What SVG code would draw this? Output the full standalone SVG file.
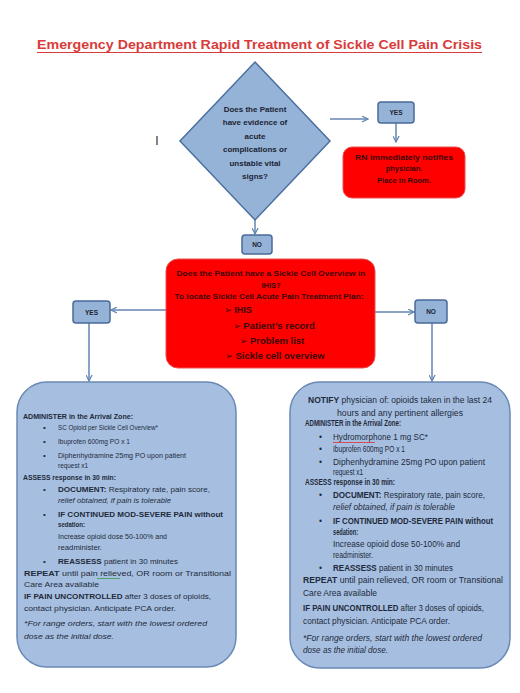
<svg xmlns="http://www.w3.org/2000/svg" width="520" height="693" viewBox="0 0 520 693">
<style>
.t{font-family:"Liberation Sans",Arial,sans-serif;}
.b{font-weight:bold;}
.i{font-style:italic;}
.lbl{fill:#95b3d7;stroke:#4a6a9a;stroke-width:1.5;}
.big{fill:#a6bfe1;stroke:#6b89b4;stroke-width:1.5;}
.red{fill:#ff0000;stroke:#e85050;stroke-width:1;}
.dk{fill:#1c2333;}
.rt{fill:#3a0808;font-weight:bold;}
.bx{fill:#1e2a3a;}
.con{fill:none;stroke:#6384b3;stroke-width:1.5;}
.ar{font-family:"DejaVu Sans",sans-serif;}
</style>
<defs>
<marker id="ah" viewBox="0 0 8 8" refX="7" refY="4" markerWidth="7" markerHeight="7" markerUnits="userSpaceOnUse" orient="auto">
<path d="M0,0.5 L7,4 L0,7.5" fill="none" stroke="#6384b3" stroke-width="1.4"/>
</marker>
</defs>
<rect width="520" height="693" fill="#ffffff"/>

<g id="title">
<text class="t b" x="259.5" y="49" font-size="13" fill="#d93a3a" text-anchor="middle" textLength="445" lengthAdjust="spacingAndGlyphs">Emergency Department Rapid Treatment of Sickle Cell Pain Crisis</text>
<line x1="37" y1="52.5" x2="482" y2="52.5" stroke="#d93a3a" stroke-width="1.2"/>
</g>

<text class="t" x="157" y="145" font-size="12" fill="#333333" text-anchor="middle">I</text>

<g id="connectors">
<path class="con" d="M330,119 L368,119" marker-end="url(#ah)"/>
<path class="con" d="M396,123 L396,142" marker-end="url(#ah)"/>
<path class="con" d="M255,220 L255,234" marker-end="url(#ah)"/>
<path class="con" d="M166,310 L111,310" marker-end="url(#ah)"/>
<path class="con" d="M89,323 L89,381" marker-end="url(#ah)"/>
<path class="con" d="M375,312 L414,312" marker-end="url(#ah)"/>
<path class="con" d="M432,323 L432,381" marker-end="url(#ah)"/>
</g>

<g id="decision">
<polygon points="255,62 330,141 255,220 180,141" fill="#95b3d7" stroke="#4a6fa0" stroke-width="1.5"/>
<g class="t b dk" font-size="8" text-anchor="middle">
<text x="255" y="112">Does the Patient</text>
<text x="255" y="125">have evidence of</text>
<text x="255" y="139">acute</text>
<text x="255" y="152">complications or</text>
<text x="255" y="166">unstable vital</text>
<text x="255" y="179">signs?</text>
</g>
</g>

<g id="yes-top">
<rect class="lbl" x="378" y="102" width="36" height="21" rx="3"/>
<text class="t b dk" x="396" y="115" font-size="6.5" text-anchor="middle">YES</text>
</g>

<g id="notify-room">
<rect class="red" x="343" y="147" width="122" height="51" rx="9"/>
<g class="t rt" font-size="7.5" text-anchor="middle">
<text x="404" y="160" textLength="98" lengthAdjust="spacingAndGlyphs">RN immediately notifies</text>
<text x="404" y="171">physician.</text>
<text x="404" y="183">Place in Room.</text>
</g>
</g>

<g id="no-top">
<rect class="lbl" x="242" y="235" width="30" height="19" rx="3"/>
<text class="t b dk" x="257" y="247" font-size="6.5" text-anchor="middle">NO</text>
</g>

<g id="overview">
<rect class="red" x="166" y="259" width="209" height="109" rx="12"/>
<g class="t rt" text-anchor="middle">
<text x="271" y="276" font-size="7.5" textLength="189" lengthAdjust="spacingAndGlyphs">Does the Patient have a Sickle Cell Overview in</text>
<text x="271" y="288" font-size="7.5">IHIS?</text>
<text x="269" y="299" font-size="7.5" textLength="189" lengthAdjust="spacingAndGlyphs">To locate Sickle Cell Acute Pain Treatment Plan:</text>
<text x="238" y="313" font-size="9"><tspan class="ar" font-size="9">➢</tspan>  IHIS</text>
<text x="274" y="329" font-size="9.5"><tspan class="ar" font-size="9">➢</tspan>  Patient’s record</text>
<text x="272" y="344" font-size="9.5"><tspan class="ar" font-size="9">➢</tspan>  Problem list</text>
<text x="275" y="359" font-size="9.5"><tspan class="ar" font-size="9">➢</tspan>  Sickle cell overview</text>
</g>
</g>

<g id="yes-left">
<rect class="lbl" x="73" y="301" width="37" height="22" rx="3"/>
<text class="t b dk" x="91.5" y="314.5" font-size="6.5" text-anchor="middle">YES</text>
</g>

<g id="no-right">
<rect class="lbl" x="415" y="300" width="32" height="23" rx="3"/>
<text class="t b dk" x="431" y="314" font-size="6.5" text-anchor="middle">NO</text>
</g>

<g id="plan-yes">
<rect class="big" x="17" y="382" width="219" height="285" rx="30"/>
<g class="t bx" font-size="8">
<text class="b" x="23" y="419" textLength="110" lengthAdjust="spacingAndGlyphs">ADMINISTER in the Arrival Zone:</text>
<text x="43" y="430">•</text>
<text x="58" y="430" textLength="100" lengthAdjust="spacingAndGlyphs">SC Opioid per Sickle Cell Overview*</text>
<text x="43" y="444">•</text>
<text x="58" y="444" textLength="72" lengthAdjust="spacingAndGlyphs">Ibuprofen 600mg PO x 1</text>
<text x="43" y="458">•</text>
<text x="58" y="458" textLength="128" lengthAdjust="spacingAndGlyphs">Diphenhydramine 25mg PO upon patient</text>
<text x="58" y="468" textLength="30" lengthAdjust="spacingAndGlyphs">request x1</text>
<text class="b" x="23" y="480" textLength="93" lengthAdjust="spacingAndGlyphs">ASSESS response in 30 min:</text>
<text x="43" y="492">•</text>
<text x="58" y="492" textLength="152" lengthAdjust="spacingAndGlyphs"><tspan class="b">DOCUMENT:</tspan> Respiratory rate, pain score,</text>
<text class="i" x="58" y="503" textLength="113" lengthAdjust="spacingAndGlyphs">relief obtained, if pain is tolerable</text>
<text x="43" y="517">•</text>
<text class="b" x="58" y="517" textLength="165" lengthAdjust="spacingAndGlyphs">IF CONTINUED MOD-SEVERE PAIN without</text>
<text class="b" x="58" y="527" textLength="27" lengthAdjust="spacingAndGlyphs">sedation:</text>
<text x="58" y="539" textLength="109" lengthAdjust="spacingAndGlyphs">Increase opioid dose 50-100% and</text>
<text x="58" y="550" textLength="44" lengthAdjust="spacingAndGlyphs">readminister.</text>
<text x="43" y="564">•</text>
<text x="58" y="564" textLength="120" lengthAdjust="spacingAndGlyphs"><tspan class="b">REASSESS</tspan> patient in 30 minutes</text>
<text x="24" y="576" textLength="207" lengthAdjust="spacingAndGlyphs"><tspan class="b">REPEAT</tspan> until pain relieved, OR room or Transitional</text>
<text x="24" y="587" textLength="75" lengthAdjust="spacingAndGlyphs">Care Area available</text>
<text x="24" y="599" textLength="187" lengthAdjust="spacingAndGlyphs"><tspan class="b">IF PAIN UNCONTROLLED</tspan> after 3 doses of opioids,</text>
<text x="24" y="611" textLength="152" lengthAdjust="spacingAndGlyphs">contact physician. Anticipate PCA order.</text>
<text class="i" x="24" y="626" textLength="183" lengthAdjust="spacingAndGlyphs">*For range orders, start with the lowest ordered</text>
<text class="i" x="24" y="639" textLength="90" lengthAdjust="spacingAndGlyphs">dose as the initial dose.</text>
</g>
<line x1="97" y1="578.5" x2="120" y2="578.5" stroke="#3a9a4a" stroke-width="0.8"/>
</g>

<g id="plan-no">
<rect class="big" x="290" y="382" width="220" height="286" rx="30"/>
<g class="t bx" font-size="8.5">
<text x="400" y="403" text-anchor="middle" textLength="184" lengthAdjust="spacingAndGlyphs"><tspan class="b">NOTIFY</tspan> physician of: opioids taken in the last 24</text>
<text x="400" y="416" text-anchor="middle" textLength="126" lengthAdjust="spacingAndGlyphs">hours and any pertinent allergies</text>
<text class="b" x="305" y="426" textLength="96" lengthAdjust="spacingAndGlyphs">ADMINISTER in the Arrival Zone:</text>
<text x="319" y="440">•</text>
<text x="333" y="440" textLength="95" lengthAdjust="spacingAndGlyphs">Hydromorphone 1 mg SC*</text>
<text x="319" y="452">•</text>
<text x="333" y="452" textLength="72" lengthAdjust="spacingAndGlyphs">Ibuprofen 600mg PO x 1</text>
<text x="319" y="465">•</text>
<text x="333" y="465" textLength="152" lengthAdjust="spacingAndGlyphs">Diphenhydramine 25mg PO upon patient</text>
<text x="333" y="474.5" textLength="30" lengthAdjust="spacingAndGlyphs">request x1</text>
<text class="b" x="305" y="485" textLength="90" lengthAdjust="spacingAndGlyphs">ASSESS response in 30 min:</text>
<text x="319" y="498">•</text>
<text x="333" y="498" textLength="152" lengthAdjust="spacingAndGlyphs"><tspan class="b">DOCUMENT:</tspan> Respiratory rate, pain score,</text>
<text class="i" x="333" y="510" textLength="122" lengthAdjust="spacingAndGlyphs">relief obtained, if pain is tolerable</text>
<text x="319" y="524">•</text>
<text class="b" x="333" y="524" textLength="160" lengthAdjust="spacingAndGlyphs">IF CONTINUED MOD-SEVERE PAIN without</text>
<text class="b" x="333" y="535" textLength="25" lengthAdjust="spacingAndGlyphs">sedation:</text>
<text x="333" y="547" textLength="127" lengthAdjust="spacingAndGlyphs">Increase opioid dose 50-100% and</text>
<text x="333" y="557.5" textLength="40" lengthAdjust="spacingAndGlyphs">readminister.</text>
<text x="319" y="571">•</text>
<text x="333" y="571" textLength="120" lengthAdjust="spacingAndGlyphs"><tspan class="b">REASSESS</tspan> patient in 30 minutes</text>
<text x="303" y="583" textLength="200" lengthAdjust="spacingAndGlyphs"><tspan class="b">REPEAT</tspan> until pain relieved, OR room or Transitional</text>
<text x="303" y="596" textLength="74" lengthAdjust="spacingAndGlyphs">Care Area available</text>
<text x="303" y="611" textLength="181" lengthAdjust="spacingAndGlyphs"><tspan class="b">IF PAIN UNCONTROLLED</tspan> after 3 doses of opioids,</text>
<text x="303" y="624" textLength="147" lengthAdjust="spacingAndGlyphs">contact physician. Anticipate PCA order.</text>
<text class="i" x="303" y="641" textLength="179" lengthAdjust="spacingAndGlyphs">*For range orders, start with the lowest ordered</text>
<text class="i" x="303" y="653" textLength="85" lengthAdjust="spacingAndGlyphs">dose as the initial dose.</text>
</g>
<line x1="333" y1="442.5" x2="375" y2="442.5" stroke="#e03030" stroke-width="0.8"/>
</g>
</svg>
